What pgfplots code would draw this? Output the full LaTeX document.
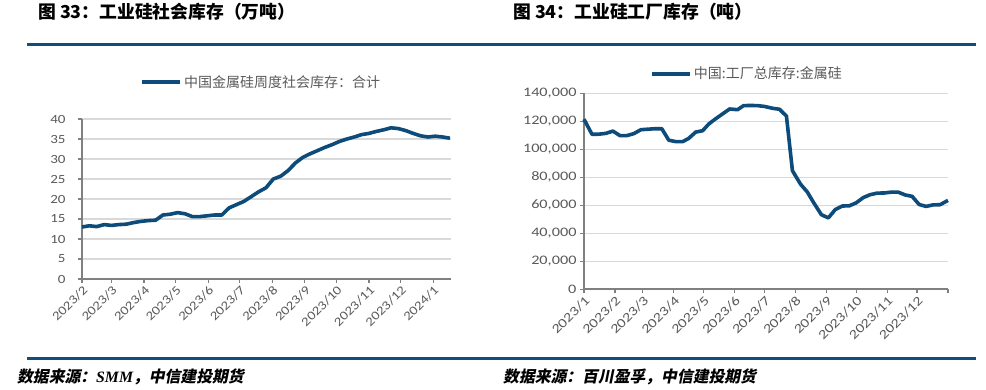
\documentclass[border=0pt]{standalone}
\usepackage{fontspec}
\usepackage{pgfplots}
\pgfplotsset{compat=1.18}
\setmainfont{Liberation Serif}
\newfontfamily\cjk{Noto Sans CJK SC}
\newfontfamily\cjkfoot[FakeSlant=0.2]{Noto Sans CJK SC}
\newfontfamily\numfont[FakeStretch=1.2]{Carlito}
\newfontfamily\numfontw[FakeStretch=1.25]{Carlito}
\definecolor{serie}{HTML}{0C4B7A}
\definecolor{rulec}{HTML}{0E4F80}
\definecolor{txt}{HTML}{595959}
\definecolor{gridc}{HTML}{D9D9D9}
\definecolor{axisc}{HTML}{808080}

\pgfplotsset{common/.style={
 scale only axis, axis x line*=bottom, axis y line*=left,
 axis line style={draw=axisc, line width=1.6bp},
 tick align=outside, major tick length=4bp,
 tick style={draw=axisc, line width=1.2bp},
 ymajorgrids, grid style={draw=gridc, line width=1.3bp},
 every tick label/.append style={text=txt},
 /pgf/number format/assume math mode=true,
 xticklabel style={rotate=45, anchor=north east, inner sep=1bp},
 legend style={draw=none, fill=none, text=txt, font=\cjk\fontsize{14bp}{16bp}\selectfont, anchor=center, legend columns=1},
 legend image code/.code={\draw[#1] (0bp,0bp) -- (38bp,0bp);},
 clip=false,
}}

\pgfplotstableread{
d v
0 13.0
7 13.3
14 13.1
21 13.6
28 13.4
35 13.6
42 13.7
49 14.1
56 14.4
63 14.6
70 14.7
77 16.0
84 16.2
91 16.6
98 16.3
105 15.6
112 15.6
119 15.8
126 16.0
133 16.0
140 17.8
147 18.6
154 19.4
161 20.6
168 21.8
175 22.8
182 25.0
189 25.7
196 27.1
203 29.0
210 30.4
217 31.3
224 32.1
231 32.9
238 33.6
245 34.4
252 35.0
259 35.5
266 36.1
273 36.4
280 36.9
287 37.3
294 37.8
301 37.6
308 37.1
315 36.4
322 35.8
329 35.5
336 35.7
343 35.5
350 35.2
}\social

\pgfplotstableread{
d v
0 121500
8 110700
15 110800
22 111400
29 113000
36 109800
43 109800
50 111200
57 114000
63 114300
71 114700
78 114700
85 106500
92 105500
99 105500
105 107800
112 112300
119 113300
125 118000
132 121800
139 125300
146 128800
154 128300
160 131200
167 131300
174 131200
181 130600
189 129300
196 128600
203 123700
209 84700
217 75200
224 69400
230 62200
238 53300
245 51000
252 57000
259 59500
266 59600
273 61800
280 65500
287 67600
294 68700
301 68800
308 69400
315 69400
322 67400
329 66400
336 60600
343 59200
350 60300
357 60400
365 63500
}\factory

\begin{document}
\begin{tikzpicture}
\path[use as bounding box] (0,0) rectangle (986bp,390bp);

\node[anchor=west, inner sep=0, font=\cjk\bfseries\fontsize{17.8bp}{20bp}\selectfont] at (38bp,378bp) {图 33：工业硅社会库存（万吨）};
\node[anchor=west, inner sep=0, font=\cjk\bfseries\fontsize{17.8bp}{20bp}\selectfont] at (513bp,378bp) {图 34：工业硅工厂库存（吨）};
\draw[rulec, line width=3bp] (27bp,345.7bp) -- (976bp,345.7bp);
\draw[rulec, line width=3bp] (27bp,31bp) -- (976bp,31bp);
\node[anchor=west, inner sep=0, font=\cjkfoot\bfseries\fontsize{15.8bp}{18bp}\selectfont] at (17bp,13bp) {数据来源：{\rmfamily\bfseries\itshape SMM}，中信建投期货};
\node[anchor=west, inner sep=0, font=\cjkfoot\bfseries\fontsize{15.8bp}{18bp}\selectfont] at (503bp,13bp) {数据来源：百川盈孚，中信建投期货};

\begin{axis}[common, at={(82bp,111bp)}, anchor=south west,
  width=369bp, height=160bp,
  xmin=0, xmax=351, ymin=0, ymax=40,
  ytick={0,5,...,40},
  xtick={0,28,59,89,120,150,181,212,242,273,303,334},
  xticklabels={2023/2,2023/3,2023/4,2023/5,2023/6,2023/7,2023/8,2023/9,2023/10,2023/11,2023/12,2024/1},
  tick label style={font=\numfont\fontsize{12.5bp}{14bp}\selectfont},
  yticklabel style={xshift=-9bp},
  legend style={at={(0.486,1.231)}}]
\addplot[serie, line width=3.6bp, line join=round] table[x=d, y=v] {\social};
\addlegendentry{中国金属硅周度社会库存：合计}
\end{axis}

\begin{axis}[common, at={(584bp,100.7bp)}, anchor=south west,
  width=364bp, height=196bp,
  xmin=0, xmax=365, ymin=0, ymax=140000,
  ytick={0,20000,...,140000}, scaled y ticks=false,
  yticklabel style={/pgf/number format/.cd, fixed, 1000 sep={,}},
  xtick={0,31,59,90,120,151,181,212,243,273,304,334,365},
  xticklabels={2023/1,2023/2,2023/3,2023/4,2023/5,2023/6,2023/7,2023/8,2023/9,2023/10,2023/11,2023/12,{}},
  tick label style={font=\numfontw\fontsize{13bp}{15bp}\selectfont},
  legend style={at={(0.448,1.0995)}}]
\addplot[serie, line width=3.6bp, line join=round] table[x=d, y=v] {\factory};
\addlegendentry{中国:工厂总库存:金属硅}
\end{axis}
\end{tikzpicture}
\end{document}
